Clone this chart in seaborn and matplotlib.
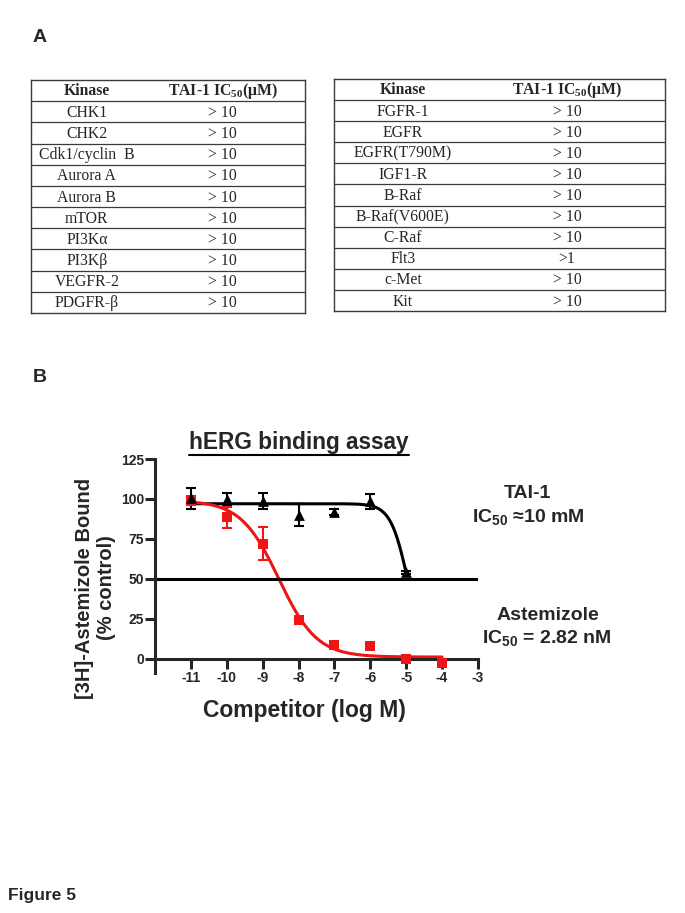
import numpy as np
import seaborn as sns
import matplotlib
matplotlib.use('Agg')
import matplotlib.pyplot as plt
from matplotlib.lines import Line2D

# Table data (panel A)
kinases_left = ['CHK1', 'CHK2', 'Cdk1/cyclin  B', 'Aurora A', 'Aurora B', 'mTOR',
                'PI3K\u03b1', 'PI3K\u03b2', 'VEGFR-2', 'PDGFR-\u03b2']
ic50_left = ['> 10', '> 10', '> 10', '> 10', '> 10', '> 10', '> 10', '> 10', '> 10', '> 10']
kinases_right = ['FGFR-1', 'EGFR', 'EGFR(T790M)', 'IGF1-R', 'B-Raf', 'B-Raf(V600E)',
                 'C-Raf', 'Flt3', 'c-Met', 'Kit']
ic50_right = ['> 10', '> 10', '> 10', '> 10', '> 10', '> 10', '> 10', '>1', '> 10', '> 10']
table_header = ['Kinase', 'TAI-1 IC$_{50}$(\u03bcM)']

# Binding assay data (panel B)
log_conc = [-11, -10, -9, -8, -7, -6, -5, -4]
tai1_mean = [100.5, 100, 98.5, 90, 92, 98.5, 54]
tai1_err = [6.5, 4, 5, 7, 2, 4.5, 1]
astemizole_mean = [99, 88.5, 72, 24.5, 8.5, 8, 0, -2.5]
astemizole_err = [3, 6.5, 10.5, 1.5, 1, 1, 1, 1.5]

# Fitted sigmoid parameters (top, bottom, logIC50, hill slope)
tai1_fit = (97, 0, -4.95, 1.8)
astemizole_fit = (99, 1, np.log10(2.82e-9), 0.82)

RED = '#f01414'
W, H = 685, 913

sns.set_style('ticks')
plt.rcParams['font.family'] = ['Liberation Sans', 'DejaVu Sans']
plt.rcParams['mathtext.default'] = 'regular'


def fx(x):
    return x / W


def fy(y):
    return 1 - y / H


def sigmoid(x, params):
    top, bottom, logic50, hill = params
    return bottom + (top - bottom) / (1 + 10 ** ((x - logic50) * hill))


fig = plt.figure(figsize=(6.85, 9.13), dpi=100)

# ---- Panel A tables ----
def draw_table(box, kinases, values, col_pos):
    ax = fig.add_axes([fx(box[0]), fy(box[3]), fx(box[2] - box[0]), (box[3] - box[1]) / H])
    n = len(kinases) + 1
    ax.set_xlim(0, 1)
    ax.set_ylim(n, 0)
    ax.set_xticks([])
    ax.set_yticks([])
    for s in ax.spines.values():
        s.set_color('#3a3a3a')
        s.set_linewidth(1.0)
    ax.hlines(np.arange(1, n), 0, 1, color='#3a3a3a', lw=0.9)
    serif = ['Liberation Serif', 'DejaVu Serif']
    ax.text(col_pos[0], 0.5, table_header[0], ha='center', va='center', family=serif,
            fontsize=11.3, fontweight='bold')
    ax.text(col_pos[1], 0.5, table_header[1], ha='center', va='center', family=serif,
            fontsize=11.3, fontweight='bold')
    for i, (k, v) in enumerate(zip(kinases, values)):
        ax.text(col_pos[0], i + 1.55, k, ha='center', va='center', family=serif, fontsize=11.3)
        ax.text(col_pos[1], i + 1.55, v, ha='center', va='center', family=serif, fontsize=11.3)
    return ax


draw_table((31, 80, 305, 313), kinases_left, ic50_left, (0.204, 0.70))
draw_table((334, 79, 665, 311), kinases_right, ic50_right, (0.208, 0.704))

# ---- Panel B plot ----
ax = fig.add_axes([fx(155), fy(673), fx(478 - 155), (673 - 459) / H])

x_tai = np.linspace(-11.1, -5, 300)
x_ast = np.linspace(-11.1, -4, 300)
sns.lineplot(x=x_tai, y=sigmoid(x_tai, tai1_fit), ax=ax, color='black', lw=2.2)
sns.lineplot(x=x_ast, y=sigmoid(x_ast, astemizole_fit), ax=ax, color=RED, lw=2.2)
ax.axhline(50, color='black', lw=2.2)

ax.errorbar(log_conc[:len(tai1_mean)], tai1_mean, yerr=tai1_err, fmt='none',
            ecolor='black', elinewidth=1.5, capsize=3.8, capthick=1.5, zorder=4)
ax.errorbar(log_conc, astemizole_mean, yerr=astemizole_err, fmt='none',
            ecolor=RED, elinewidth=1.5, capsize=3.8, capthick=1.5, zorder=4)
sns.scatterplot(x=log_conc, y=astemizole_mean, ax=ax, marker='s', color=RED,
                s=55, edgecolor=RED, linewidth=0, zorder=5)
sns.scatterplot(x=log_conc[:len(tai1_mean)], y=tai1_mean, ax=ax, marker='^', color='black',
                s=60, edgecolor='black', linewidth=0, zorder=5)

ax.set_xlim(-12, -3)
ax.set_ylim(-9, 125)
ax.set_xticks(range(-11, -2))
ax.set_yticks([0, 25, 50, 75, 100, 125])
ax.set_xticklabels([str(v) for v in range(-11, -2)])
sns.despine(ax=ax)
ax.spines['bottom'].set_position(('data', 0))
for s in ['left', 'bottom']:
    ax.spines[s].set_linewidth(2.2)
ax.tick_params(axis='both', width=2.2, length=7, labelsize=10, direction='out')
ax.tick_params(axis='y', pad=1)
ax.tick_params(axis='x', pad=2)
for lbl in ax.get_xticklabels() + ax.get_yticklabels():
    lbl.set_fontweight('bold')

fig.text(fx(95), fy(588), '[3H]-Astemizole Bound\n(% control)', rotation=90,
         ha='center', va='center', fontsize=14.5, fontweight='bold', linespacing=1.2)
fig.text(fx(304), fy(710), 'Competitor (log M)', ha='center', va='center',
         fontsize=16.5, fontweight='bold')
title = fig.text(fx(299), fy(442), 'hERG binding assay', ha='center', va='center',
                 fontsize=16.3, fontweight='bold')

fig.text(fx(527), fy(493), 'TAI-1', ha='center', va='center', fontsize=14, fontweight='bold')
fig.text(fx(528), fy(517), 'IC$_{50}$ \u224810 mM', ha='center', va='center',
         fontsize=14, fontweight='bold')
fig.text(fx(548), fy(615), 'Astemizole', ha='center', va='center', fontsize=14, fontweight='bold')
fig.text(fx(547), fy(638), 'IC$_{50}$ = 2.82 nM', ha='center', va='center',
         fontsize=14, fontweight='bold')

fig.text(fx(40), fy(38), 'A', ha='center', va='center', fontsize=14, fontweight='bold')
fig.text(fx(40), fy(377), 'B', ha='center', va='center', fontsize=14, fontweight='bold')
fig.text(fx(8), fy(895), 'Figure 5', ha='left', va='center', fontsize=12.5, fontweight='bold')

# underline the title using its rendered extent
fig.canvas.draw()
bb = title.get_window_extent().transformed(fig.transFigure.inverted())
fig.add_artist(Line2D([bb.x0, bb.x1], [fy(455), fy(455)], color='black', lw=1.5,
                      transform=fig.transFigure))

fig.savefig('out.png', dpi=100)
